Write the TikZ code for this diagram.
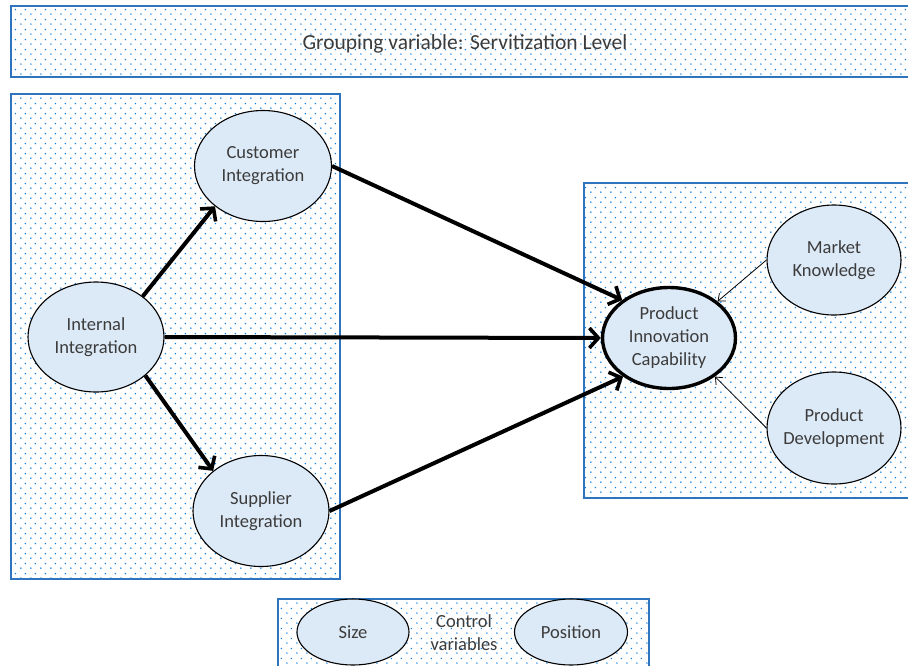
\documentclass[tikz,border=0pt]{standalone}
\usepackage{fontspec}
\setmainfont{Carlito}
\usetikzlibrary{shapes.geometric,arrows.meta,patterns.meta}
\definecolor{boxblue}{RGB}{46,117,189}
\definecolor{dotblue}{RGB}{10,125,225}
\definecolor{ellfill}{RGB}{220,233,246}
\definecolor{txtgray}{RGB}{60,60,60}
\tikzdeclarepattern{
  name=bluedots,
  type=uncolored,
  bounding box={(0pt,0pt) and (9.5pt,9.5pt)},
  tile size={(9.5pt,9.5pt)},
  code={
    \fill (2pt,2pt) circle (0.85pt);
    \fill (6.75pt,6.75pt) circle (0.85pt);
  }
}
\tikzset{
  dotbox/.style={draw=boxblue, line width=1.8pt, pattern={bluedots}, pattern color=dotblue},
  ell/.style={ellipse, draw=black, line width=1.1pt, fill=ellfill, inner sep=0pt,
    text=txtgray, font=\fontsize{18.5}{23}\selectfont, align=center},
  bigarrow/.style={line width=4pt, -{Straight Barb[length=9pt,width=20pt,line width=3.6pt]}},
  thinarrow/.style={line width=0.8pt, -{Straight Barb[length=6pt,width=10pt,line width=0.8pt]}},
  lbl/.style={text=txtgray, align=center}
}
\begin{document}
\begin{tikzpicture}[x=1pt,y=-1pt]
\useasboundingbox (0,0) rectangle (908,665);
% boxes
\path[dotbox] (11,6) rectangle (918,77);
\path[dotbox] (11,94) rectangle (340,579);
\path[dotbox] (584,183) rectangle (918,498);
\path[dotbox] (278,599) rectangle (649,675);
\node[lbl, font=\fontsize{21.5}{25}\selectfont] (group) at (465,44) {Grouping variable: Servitization Level};
% ellipses
\node[ell, minimum width=136pt, minimum height=110pt] (intl) at (96,337) {Internal\\Integration};
\node[ell, minimum width=137pt, minimum height=111pt] (cust) at (263,166) {Customer\\Integration};
\node[ell, minimum width=136pt, minimum height=111pt] (supp) at (261,511) {Supplier\\Integration};
\node[ell, line width=3.4pt, minimum width=133pt, minimum height=101pt, inner sep=-4pt] (pic) at (669,338) {Product\\Innovation\\Capability};
\node[ell, minimum width=134pt, minimum height=110pt] (mk) at (834,260) {Market\\Knowledge};
\node[ell, minimum width=134pt, minimum height=112pt, inner sep=-8pt] (pd) at (834,428) {Product\\Development};
\node[ell, minimum width=112pt, minimum height=66pt] (size) at (353,632) {Size};
\node[ell, minimum width=113pt, minimum height=66pt] (pos) at (571,632) {Position};
\node[lbl, font=\fontsize{18.5}{23}\selectfont] (ctrl) at (464,633) {Control\\variables};
% arrows
\draw[bigarrow] (intl.41) -- (cust.220);
\draw[bigarrow] (intl.-38) -- (supp.140);
\draw[bigarrow] (intl.east) -- (pic.west);
\draw[bigarrow] (cust.east) -- (pic.141);
\draw[bigarrow] (supp.east) -- (pic.-140);
\draw[thinarrow] (mk.west) -- (pic.37);
\draw[thinarrow] (pd.west) -- (pic.-40);
\end{tikzpicture}
\end{document}
